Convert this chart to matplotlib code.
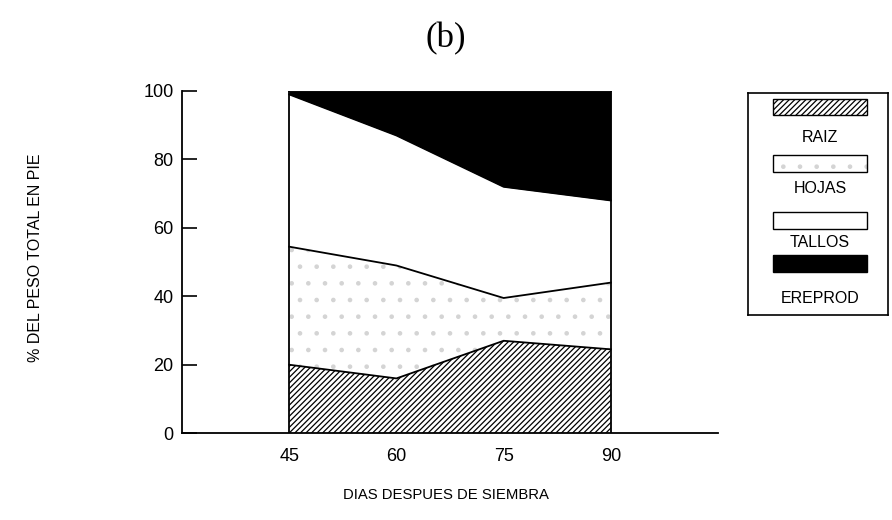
import numpy as np
import matplotlib.pyplot as plt
from matplotlib.patches import Rectangle

dias = np.array([45, 60, 75, 90])
raiz = np.array([20.0, 16.0, 27.0, 24.5])
hojas = np.array([34.5, 33.0, 12.5, 19.5])
tallos = np.array([44.5, 38.0, 32.5, 24.0])
ereprod = np.array([1.0, 13.0, 28.0, 32.0])

nombres = ['RAIZ', 'HOJAS', 'TALLOS', 'EREPROD']
plt.rcParams['font.family'] = ['Liberation Sans', 'DejaVu Sans']
plt.rcParams['hatch.linewidth'] = 0.9

fig = plt.figure(figsize=(8.92, 5.2), dpi=100)
ax = fig.add_axes([0.204, 0.167, 0.601, 0.658])

capas = [raiz, hojas, tallos, ereprod]
estilos = [dict(facecolor='white', edgecolor='black', hatch='//////'),
           dict(facecolor='white', edgecolor='#d4d4d4', hatch='.'),
           dict(facecolor='white', edgecolor='white'),
           dict(facecolor='black', edgecolor='black')]

abajo = np.zeros(len(dias))
for capa, est in zip(capas, estilos):
    arriba = abajo + capa
    ax.fill_between(dias, abajo, arriba, linewidth=0, **est)
    ax.plot(dias, arriba, color='black', lw=1.3)
    abajo = arriba

ax.vlines([dias[0], dias[-1]], 0, 100, color='black', lw=1.3)

ax.set_xlim(30, 105)
ax.set_ylim(0, 100)
ax.set_xticks(dias)
ax.set_yticks([0, 20, 40, 60, 80, 100])
ax.tick_params(axis='x', length=0, pad=11, labelsize=13)
ax.tick_params(axis='y', direction='in', length=11, width=1.2, pad=6, labelsize=13)
for s in ['top', 'right']:
    ax.spines[s].set_visible(False)
for s in ['left', 'bottom']:
    ax.spines[s].set_linewidth(1.3)

fig.text(0.04, 0.505, '% DEL PESO TOTAL EN PIE', rotation=90,
         ha='center', va='center', fontsize=11.5)
fig.text(0.5, 0.048, 'DIAS DESPUES DE SIEMBRA', ha='center', va='center',
         fontsize=10.7)
fig.text(0.5, 0.925, '(b)', ha='center', va='center', fontsize=25,
         family='Liberation Serif')

# leyenda con la muestra encima del nombre
lg = fig.add_axes([0.8386, 0.394, 0.157, 0.427])
lg.set_xlim(0, 1)
lg.set_ylim(0, 1)
lg.set_xticks([])
lg.set_yticks([])
for sp in lg.spines.values():
    sp.set_linewidth(1.2)
y_muestra = [0.90, 0.645, 0.39, 0.195]
y_nombre = [0.80, 0.57, 0.325, 0.075]
for nom, est, ym, yn in zip(nombres, estilos, y_muestra, y_nombre):
    lg.add_patch(Rectangle((0.18, ym), 0.67, 0.075, linewidth=0, **est))
    lg.add_patch(Rectangle((0.18, ym), 0.67, 0.075, fill=False, edgecolor='black', lw=1.0))
    lg.text(0.515, yn, nom, ha='center', va='center', fontsize=11.5)

plt.savefig('out.png')
